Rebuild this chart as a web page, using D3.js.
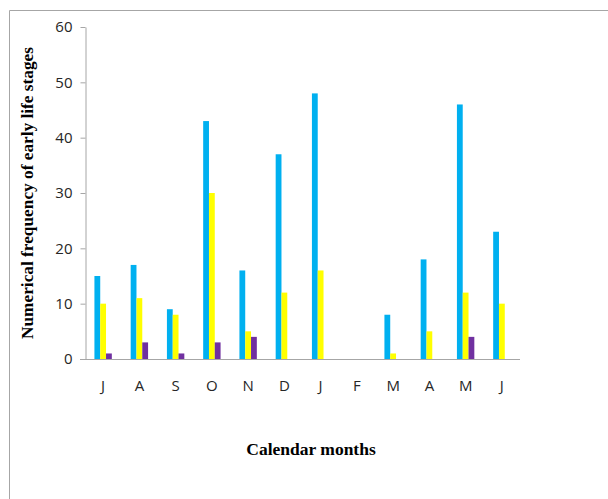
<!DOCTYPE html>
<html><head><meta charset="utf-8">
<script src="https://cdn.jsdelivr.net/npm/d3@7"></script>
<style>html,body{margin:0;padding:0;background:#fff}</style>
</head><body>
<svg id="c" width="608" height="499"></svg>
<script>
const months = ["J","A","S","O","N","D","J","F","M","A","M","J"];
const seriesBlue   = [15,17,9,43,16,37,48,0,8,18,46,23];
const seriesYellow = [10,11,8,30,5,12,16,0,1,5,12,10];
const seriesPurple = [1,3,1,3,4,0,0,0,0,0,4,0];
const yTicks = [0,10,20,30,40,50,60];
const seriesColors = ["#00B0F0","#FFFF00","#7030A0"];

(function(){
const svg = d3.select("#c");
svg.append("path").attr("d","M9.5,499 L9.5,10.5 L608,10.5").attr("fill","none").attr("stroke","#A6A6A6").attr("stroke-width",1);

const pl=85, pr=520, pt=27, pb=359;
const idx = months.map((m,i)=>i);
const x = d3.scaleBand().domain(idx).range([pl,pr]).paddingInner(0).paddingOuter(0);
const y = d3.scaleLinear().domain([0,60]).range([pb,pt]);
const groupW = 17.4;
const xs = d3.scaleBand().domain([0,1,2]).range([0,groupW]);

const data = [seriesBlue, seriesYellow, seriesPurple];
data.forEach((s,si)=>{
  svg.append("g").selectAll("rect").data(s).join("rect")
    .attr("x",(d,i)=>x(i)+(x.bandwidth()-groupW)/2+xs(si))
    .attr("width",xs.bandwidth())
    .attr("y",d=>y(d))
    .attr("height",d=>pb-y(d))
    .attr("fill",seriesColors[si]);
});

const tickFont = "'Open Sans', Carlito, sans-serif";
const ya = svg.append("g").attr("transform",`translate(${pl+0.5},0)`)
  .call(d3.axisLeft(y).tickValues(yTicks).tickSize(5).tickSizeOuter(0).tickPadding(8));
ya.select(".domain").attr("stroke","#A6A6A6");
ya.selectAll(".tick line").attr("stroke","#A6A6A6");
ya.selectAll(".tick text").attr("font-family",tickFont).attr("font-size",15).attr("fill","#262626");

const xa = svg.append("g").attr("transform",`translate(0,${pb+0.5})`)
  .call(d3.axisBottom(x).tickFormat(i=>months[i]).tickSize(0).tickSizeOuter(0).tickPadding(21));
xa.select(".domain").attr("stroke","#A6A6A6").attr("d",`M${pl-5},0H${pr}`);
xa.selectAll(".tick text").attr("font-family",tickFont).attr("font-size",15).attr("fill","#262626");

svg.append("text").attr("x",311).attr("y",455).attr("text-anchor","middle")
  .attr("font-family","'Liberation Serif','Times New Roman',serif").attr("font-weight","bold").attr("font-size",17.5)
  .text("Calendar months");
svg.append("text").attr("transform","translate(33,193) rotate(-90)").attr("text-anchor","middle")
  .attr("font-family","'Liberation Serif','Times New Roman',serif").attr("font-weight","bold").attr("font-size",17.3)
  .text("Numerical frequency of early life stages");
})();
</script>
</body></html>
